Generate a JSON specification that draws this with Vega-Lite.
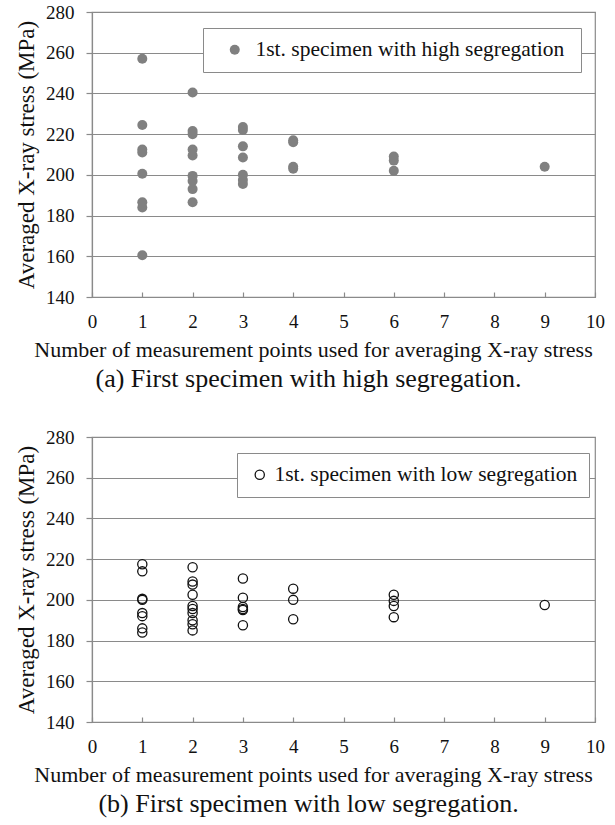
{
  "$schema": "https://vega.github.io/schema/vega-lite/v6.json",
  "background": "white",
  "padding": {"left": 14, "top": 2, "right": 5, "bottom": 5},
  "spacing": 34,
  "resolve": {"scale": {"color": "independent"}, "legend": {"color": "independent"}},
  "config": {
    "font": "Liberation Serif, Times New Roman, serif",
    "view": {"stroke": "#8a8a8a", "strokeWidth": 1.2},
    "axis": {
      "labelFont": "Liberation Serif, Times New Roman, serif",
      "titleFont": "Liberation Serif, Times New Roman, serif",
      "labelFontSize": 19,
      "titleFontSize": 22,
      "labelColor": "#111",
      "titleColor": "#111",
      "titleFontWeight": "normal",
      "domainColor": "#8a8a8a",
      "domainWidth": 1.2,
      "tickColor": "#8a8a8a",
      "tickWidth": 1.2,
      "gridColor": "#8a8a8a",
      "gridWidth": 1.2
    },
    "legend": {
      "labelFont": "Liberation Serif, Times New Roman, serif",
      "labelFontSize": 21.5,
      "labelColor": "#111",
      "labelLimit": 500
    }
  },
  "vconcat": [
    {
      "width": 503,
      "height": 285,
      "title": {"text": "(a) First specimen with high segregation.", "orient": "bottom", "anchor": "middle", "fontSize": 26, "fontWeight": "normal", "font": "Liberation Serif, Times New Roman, serif", "color": "#111", "dx": -35, "offset": 6},
      "data": {"values": [
        {"n": 1, "stress": 257, "series": "1st. specimen with high  segregation"},
        {"n": 1, "stress": 224.5, "series": "1st. specimen with high  segregation"},
        {"n": 1, "stress": 212.5, "series": "1st. specimen with high  segregation"},
        {"n": 1, "stress": 211, "series": "1st. specimen with high  segregation"},
        {"n": 1, "stress": 200.5, "series": "1st. specimen with high  segregation"},
        {"n": 1, "stress": 186.5, "series": "1st. specimen with high  segregation"},
        {"n": 1, "stress": 184, "series": "1st. specimen with high  segregation"},
        {"n": 1, "stress": 160.5, "series": "1st. specimen with high  segregation"},
        {"n": 2, "stress": 240.5, "series": "1st. specimen with high  segregation"},
        {"n": 2, "stress": 221.5, "series": "1st. specimen with high  segregation"},
        {"n": 2, "stress": 220, "series": "1st. specimen with high  segregation"},
        {"n": 2, "stress": 212.5, "series": "1st. specimen with high  segregation"},
        {"n": 2, "stress": 209.5, "series": "1st. specimen with high  segregation"},
        {"n": 2, "stress": 199.5, "series": "1st. specimen with high  segregation"},
        {"n": 2, "stress": 197, "series": "1st. specimen with high  segregation"},
        {"n": 2, "stress": 193, "series": "1st. specimen with high  segregation"},
        {"n": 2, "stress": 186.5, "series": "1st. specimen with high  segregation"},
        {"n": 3, "stress": 223.5, "series": "1st. specimen with high  segregation"},
        {"n": 3, "stress": 222, "series": "1st. specimen with high  segregation"},
        {"n": 3, "stress": 214, "series": "1st. specimen with high  segregation"},
        {"n": 3, "stress": 208.5, "series": "1st. specimen with high  segregation"},
        {"n": 3, "stress": 200, "series": "1st. specimen with high  segregation"},
        {"n": 3, "stress": 197.5, "series": "1st. specimen with high  segregation"},
        {"n": 3, "stress": 195.5, "series": "1st. specimen with high  segregation"},
        {"n": 4, "stress": 217, "series": "1st. specimen with high  segregation"},
        {"n": 4, "stress": 216, "series": "1st. specimen with high  segregation"},
        {"n": 4, "stress": 204, "series": "1st. specimen with high  segregation"},
        {"n": 4, "stress": 203, "series": "1st. specimen with high  segregation"},
        {"n": 6, "stress": 209, "series": "1st. specimen with high  segregation"},
        {"n": 6, "stress": 207, "series": "1st. specimen with high  segregation"},
        {"n": 6, "stress": 202, "series": "1st. specimen with high  segregation"},
        {"n": 9, "stress": 204, "series": "1st. specimen with high  segregation"}
      ]},
      "mark": {"type": "point", "filled": true, "size": 100, "opacity": 1},
      "encoding": {
        "x": {"field": "n", "type": "quantitative", "scale": {"domain": [0, 10], "nice": false},
          "axis": {"values": [0,1,2,3,4,5,6,7,8,9,10], "grid": false, "tickSize": -5, "labelPadding": 20, "labelFlush": false, "title": "Number of measurement points used for averaging X-ray stress", "titleX": 221, "titlePadding": 8}},
        "y": {"field": "stress", "type": "quantitative", "scale": {"domain": [140, 280], "nice": false},
          "axis": {"values": [140,160,180,200,220,240,260,280], "grid": true, "tickSize": 6, "labelPadding": 12, "title": "Averaged X-ray stress (MPa)", "titleFontSize": 23, "titlePadding": 7}},
        "color": {"field": "series", "type": "nominal", "scale": {"range": ["#808080"]},
          "legend": {"title": null, "orient": "none", "legendX": 111, "legendY": 16, "fillColor": "white", "strokeColor": "#8a8a8a", "padding": 11, "symbolType": "circle", "symbolSize": 100, "symbolOffset": 10, "labelOffset": 10}}
      }
    },
    {
      "width": 503,
      "height": 285,
      "title": {"text": "(b) First specimen with low segregation.", "orient": "bottom", "anchor": "middle", "fontSize": 26, "fontWeight": "normal", "font": "Liberation Serif, Times New Roman, serif", "color": "#111", "dx": -35, "offset": 6},
      "data": {"values": [
        {"n": 1, "stress": 217.5, "series": "1st. specimen with low segregation"},
        {"n": 1, "stress": 214, "series": "1st. specimen with low segregation"},
        {"n": 1, "stress": 200.5, "series": "1st. specimen with low segregation"},
        {"n": 1, "stress": 200, "series": "1st. specimen with low segregation"},
        {"n": 1, "stress": 193.5, "series": "1st. specimen with low segregation"},
        {"n": 1, "stress": 192, "series": "1st. specimen with low segregation"},
        {"n": 1, "stress": 186, "series": "1st. specimen with low segregation"},
        {"n": 1, "stress": 184, "series": "1st. specimen with low segregation"},
        {"n": 2, "stress": 216, "series": "1st. specimen with low segregation"},
        {"n": 2, "stress": 209, "series": "1st. specimen with low segregation"},
        {"n": 2, "stress": 207.5, "series": "1st. specimen with low segregation"},
        {"n": 2, "stress": 202.5, "series": "1st. specimen with low segregation"},
        {"n": 2, "stress": 197, "series": "1st. specimen with low segregation"},
        {"n": 2, "stress": 195.5, "series": "1st. specimen with low segregation"},
        {"n": 2, "stress": 193.5, "series": "1st. specimen with low segregation"},
        {"n": 2, "stress": 190, "series": "1st. specimen with low segregation"},
        {"n": 2, "stress": 188, "series": "1st. specimen with low segregation"},
        {"n": 2, "stress": 185, "series": "1st. specimen with low segregation"},
        {"n": 3, "stress": 210.5, "series": "1st. specimen with low segregation"},
        {"n": 3, "stress": 201, "series": "1st. specimen with low segregation"},
        {"n": 3, "stress": 196.5, "series": "1st. specimen with low segregation"},
        {"n": 3, "stress": 195.5, "series": "1st. specimen with low segregation"},
        {"n": 3, "stress": 195, "series": "1st. specimen with low segregation"},
        {"n": 3, "stress": 187.5, "series": "1st. specimen with low segregation"},
        {"n": 4, "stress": 205.5, "series": "1st. specimen with low segregation"},
        {"n": 4, "stress": 200, "series": "1st. specimen with low segregation"},
        {"n": 4, "stress": 190.5, "series": "1st. specimen with low segregation"},
        {"n": 6, "stress": 202.5, "series": "1st. specimen with low segregation"},
        {"n": 6, "stress": 199.5, "series": "1st. specimen with low segregation"},
        {"n": 6, "stress": 197, "series": "1st. specimen with low segregation"},
        {"n": 6, "stress": 191.5, "series": "1st. specimen with low segregation"},
        {"n": 9, "stress": 197.5, "series": "1st. specimen with low segregation"}
      ]},
      "mark": {"type": "point", "filled": false, "size": 85, "strokeWidth": 1.3, "opacity": 1},
      "encoding": {
        "x": {"field": "n", "type": "quantitative", "scale": {"domain": [0, 10], "nice": false},
          "axis": {"values": [0,1,2,3,4,5,6,7,8,9,10], "grid": false, "tickSize": -5, "labelPadding": 20, "labelFlush": false, "title": "Number of measurement points used for averaging X-ray stress", "titleX": 221, "titlePadding": 8}},
        "y": {"field": "stress", "type": "quantitative", "scale": {"domain": [140, 280], "nice": false},
          "axis": {"values": [140,160,180,200,220,240,260,280], "grid": true, "tickSize": 6, "labelPadding": 12, "title": "Averaged X-ray stress (MPa)", "titleFontSize": 23, "titlePadding": 7}},
        "color": {"field": "series", "type": "nominal", "scale": {"range": ["#111111"]},
          "legend": {"title": null, "orient": "none", "legendX": 145, "legendY": 16, "fillColor": "white", "strokeColor": "#8a8a8a", "padding": 11, "symbolType": "circle", "symbolSize": 85, "symbolStrokeWidth": 1.3, "symbolOffset": 1, "labelOffset": 4}}
      }
    }
  ]
}
